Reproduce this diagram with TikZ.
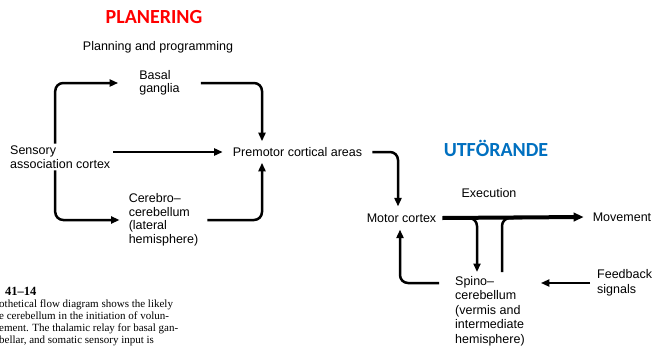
\documentclass[tikz,border=0pt]{standalone}
\usepackage{fontspec}
\setmainfont{Liberation Sans}
\newfontfamily\titlefont{Carlito}
\newfontfamily\capfont{Liberation Serif}
\usetikzlibrary{arrows.meta,calc}
\definecolor{plred}{RGB}{255,0,0}
\definecolor{utblue}{RGB}{0,112,192}
\begin{document}
\begin{tikzpicture}[x=1pt,y=-1pt,
 lbl/.style={font=\fontsize{12.5}{13.5}\selectfont, align=left, inner sep=0pt},
 ttl/.style={font=\titlefont\bfseries\fontsize{20}{24}\selectfont, inner sep=0pt},
 arr/.style={line width=2.5pt, -{Triangle[length=8.5pt,width=7pt]}, rounded corners=8pt},
 ln/.style={line width=2.5pt, rounded corners=8pt}]
\path[use as bounding box, fill=white] (0,0) rectangle (653,351);

\node[ttl, text=plred] (plan) at (154,17) {PLANERING};
\node[lbl] (pp) at (158,47) {Planning and programming};
\node[lbl, inner xsep=21pt] (basal) at (159.5,83) {Basal\\ganglia};
\node[lbl, inner xsep=3pt, inner ysep=2pt, anchor=west] (sens) at (7,157) {Sensory\\association cortex};
\node[lbl, inner xsep=10pt, inner ysep=6pt] (prem) at (297.5,152) {Premotor cortical areas};
\node[lbl, inner xsep=9pt] (cereb) at (163.5,220) {Cerebro–\\cerebellum\\(lateral\\hemisphere)};

\node[ttl, text=utblue] (utf) at (496,148) {UTFÖRANDE};
\node[lbl] (exec) at (489,193) {Execution};
\node[lbl, inner xsep=6pt, inner ysep=7pt] (motor) at (401.5,218) {Motor cortex};
\node[lbl, inner xsep=9pt] (move) at (622,217) {Movement};
\node[lbl, font=\fontsize{12.5}{14.5}\selectfont, inner xsep=16pt, anchor=north west] (spino) at (439,276) {Spino–\\cerebellum\\(vermis and\\intermediate\\hemisphere)};
\node[lbl, font=\fontsize{12.5}{15.5}\selectfont, anchor=west, inner xsep=7pt] (fb) at (590,283) {Feedback\\signals};

\draw[arr] ([xshift=-5pt]sens.north) |- (basal.west);
\draw[arr] (basal.east) -| ([xshift=-35.5pt]prem.north);
\draw[arr] (sens.east |- prem.west) -- (prem.west);
\draw[arr] ([xshift=-5pt]sens.south) |- (cereb.west);
\draw[arr] (cereb.east) -| ([xshift=-35.5pt]prem.south);
\draw[arr] (prem.east) -| ([xshift=-3.5pt]motor.north);
\draw[line width=4pt, -{Triangle[length=10pt,width=8.5pt]}] (motor.east) -- (move.west);
\draw[arr] ($(motor.east)+(22,0)$) -| ($(spino.north west)+(38,-4)$);
\draw[ln] ($(spino.north west)+(63,-4)$) |- ($(motor.east)+(80,0)$);
\draw[arr] (fb.west) -- (fb.west -| spino.east);
\draw[arr] (spino.west |- fb.west) -| ([xshift=-1.5pt]motor.south);

\node[anchor=west, inner sep=0pt, font=\capfont\bfseries\fontsize{12.5}{14}\selectfont] (fig) at (5,291) {41–14};
\node[anchor=north west, inner sep=0pt, align=left, font=\capfont\fontsize{11}{12}\selectfont] (cap) at (-1,300) {othetical flow diagram shows the likely\\e cerebellum in the initiation of volun-\\ement. The thalamic relay for basal gan-\\bellar, and somatic sensory input is};
\end{tikzpicture}
\end{document}
